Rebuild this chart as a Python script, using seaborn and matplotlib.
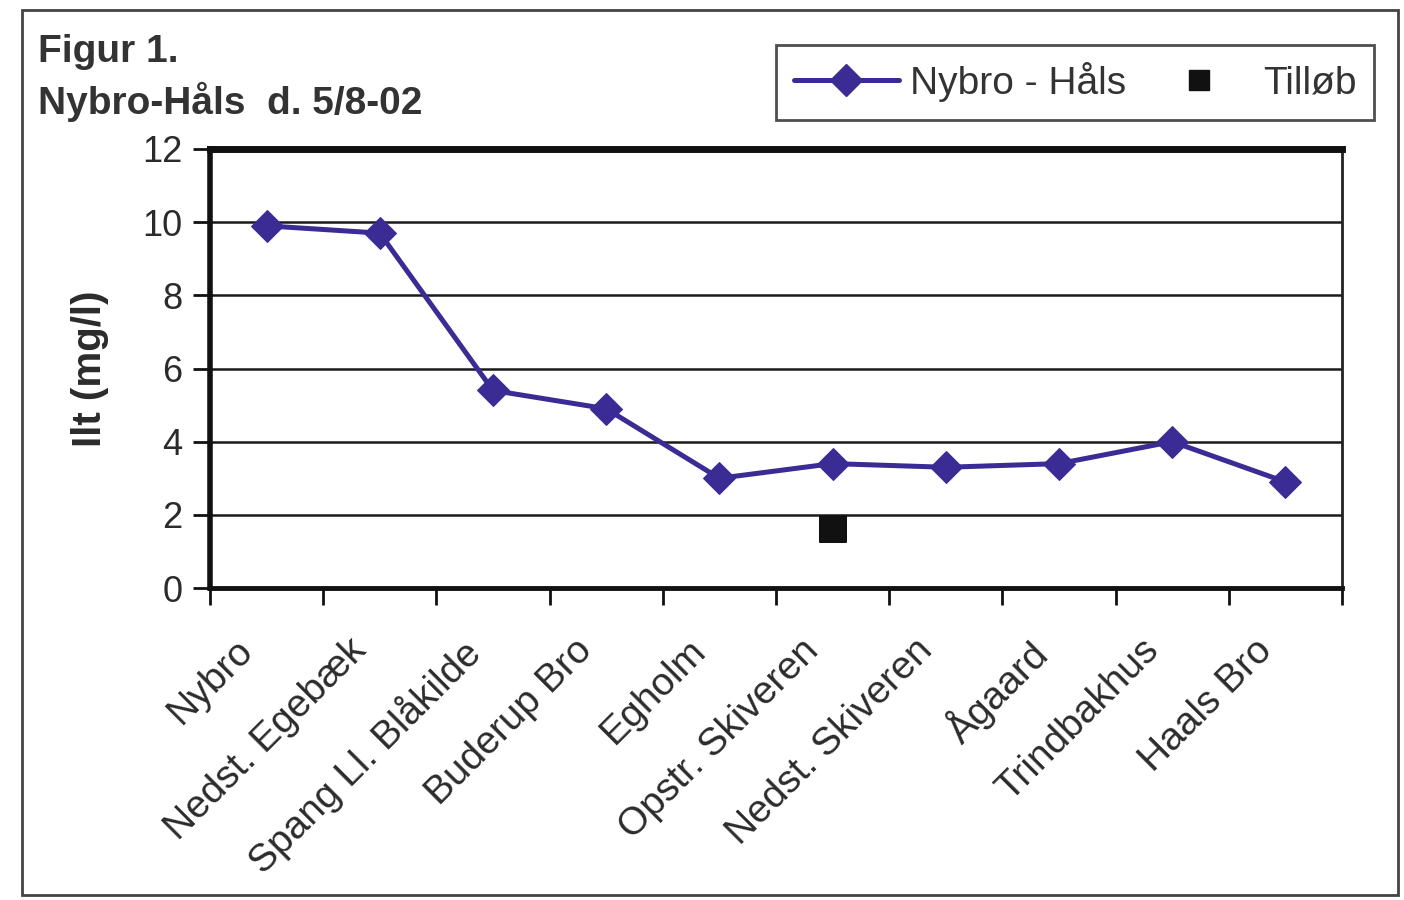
import matplotlib
matplotlib.use("Agg")
import matplotlib.pyplot as plt
from matplotlib.patches import Rectangle
from matplotlib.lines import Line2D
from matplotlib.ticker import FixedLocator, NullFormatter
from matplotlib.transforms import ScaledTranslation
import seaborn as sns
import pandas as pd

# Measuring stations along the river, upstream to downstream
stations = ["Nybro", "Nedst. Egebæk", "Spang Ll. Blåkilde", "Buderup Bro", "Egholm",
            "Opstr. Skiveren", "Nedst. Skiveren", "Ågaard", "Trindbakhus", "Haals Bro"]
oxygen = [9.9, 9.7, 5.4, 4.9, 3.0, 3.4, 3.3, 3.4, 4.0, 2.9]

# Tributary measurement
tributary_station = ["Opstr. Skiveren"]
tributary_oxygen = [1.6]

y_ticks = [0, 2, 4, 6, 8, 10, 12]

main_color = "#3b2b94"
text_color = "#2b2b2b"

sns.set_theme(style="white")
plt.rcParams["font.family"] = ["Liberation Sans", "DejaVu Sans"]

fig = plt.figure(figsize=(14.04, 9.0), dpi=100)
fig.patch.set_facecolor("white")

# outer frame of the figure
fig.add_artist(Rectangle((22 / 1404, 1 - 895 / 900), (1398 - 22) / 1404, (895 - 10) / 900,
                         transform=fig.transFigure, fill=False, edgecolor="#444444", lw=2.0))

ax = fig.add_axes([210 / 1404, 1 - 588 / 900, (1342 - 210) / 1404, (588 - 149) / 900])

df = pd.DataFrame({"station": stations, "ilt": oxygen})
trib = pd.DataFrame({"station": tributary_station, "ilt": tributary_oxygen})

sns.lineplot(data=df, x="station", y="ilt", ax=ax, color=main_color, lw=3.6,
             marker="D", markersize=16, markeredgecolor=main_color, sort=False, zorder=4)
sns.scatterplot(data=trib, x="station", y="ilt", ax=ax, color="#111111", marker="s",
                s=330, edgecolor="#111111", zorder=5)

ax.set_xlim(-0.5, len(stations) - 0.5)
ax.set_ylim(0, 12)
ax.set_yticks(y_ticks)
ax.set_yticklabels([str(v) for v in y_ticks], fontsize=26, color=text_color)

# horizontal grid
for v in y_ticks[1:-1]:
    ax.axhline(v, color="#1a1a1a", lw=1.8, zorder=1)

# category labels at centers, tick marks at the boundaries
ax.set_xticks(range(len(stations)))
ax.set_xticklabels(stations, rotation=45, ha="right", rotation_mode="anchor",
                   fontsize=28, color=text_color)
ax.tick_params(axis="x", which="major", length=0, pad=32)
shift = ScaledTranslation(-0.32, 0, fig.dpi_scale_trans)
for lab in ax.get_xticklabels():
    lab.set_transform(lab.get_transform() + shift)
ax.xaxis.set_minor_locator(FixedLocator([i - 0.5 for i in range(len(stations) + 1)]))
ax.xaxis.set_minor_formatter(NullFormatter())
ax.tick_params(axis="x", which="minor", length=12, width=2, color="#111111",
               direction="out", bottom=True)
ax.tick_params(axis="y", length=12, width=2, color="#111111", direction="out", left=True, pad=8)

for side in ["left", "bottom", "top"]:
    ax.spines[side].set_color("#111111")
ax.spines["left"].set_linewidth(4)
ax.spines["bottom"].set_linewidth(3.5)
ax.spines["top"].set_linewidth(5)
ax.spines["right"].set_linewidth(2)
ax.spines["right"].set_color("#222222")

ax.set_xlabel("")
ax.set_ylabel("Ilt (mg/l)", fontsize=29, fontweight="bold", color=text_color, labelpad=24)

# title block
fig.text(38 / 1404, 1 - 62 / 900, "Figur 1.", fontsize=28, fontweight="bold",
         color="#333333", va="baseline", ha="left")
fig.text(38 / 1404, 1 - 114 / 900, "Nybro-Håls  d. 5/8-02", fontsize=28, fontweight="bold",
         color="#333333", va="baseline", ha="left")

# legend
handles = [
    Line2D([], [], color=main_color, lw=3.6, marker="D", markersize=16),
    Line2D([], [], color="#111111", lw=0, marker="s", markersize=14),
]
leg = fig.legend(handles, ["Nybro - Håls", "Tilløb"], loc="center",
                 bbox_to_anchor=((777 + 1373) / 2 / 1404, 1 - 82 / 900), ncol=2,
                 fontsize=28, frameon=True, fancybox=False, handlelength=2.7,
                 columnspacing=0.5, handletextpad=0.3, borderpad=0.45,
                 borderaxespad=0)
leg.get_frame().set_edgecolor("#222222")
leg.get_frame().set_linewidth(2)
for t in leg.get_texts():
    t.set_color("#333333")

fig.savefig("out.png", dpi=100, facecolor="white")
